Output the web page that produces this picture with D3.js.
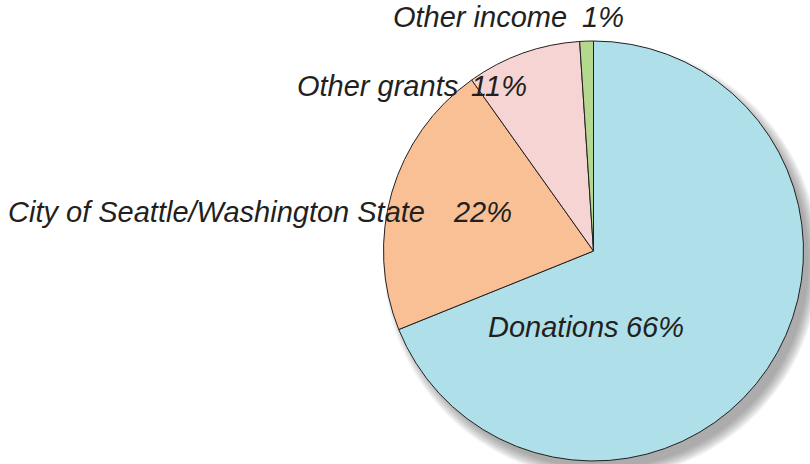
<!DOCTYPE html>
<html>
<head>
<meta charset="utf-8">
<script src="https://cdn.jsdelivr.net/npm/d3@7"></script>
<style>
  body { margin: 0; background: #fff; }
  svg text { font-family: "Liberation Sans", Arial, sans-serif; font-style: italic; fill: #231f20; }
</style>
</head>
<body>
<div id="chart"></div>
<script>
// slice order clockwise from 12 o'clock
var categories = ["Donations", "City of Seattle/Washington State", "Other grants", "Other income"];
var shares = [68.9, 21.25, 8.8, 1.05];            // slice sizes as drawn
var pctLabels = ["66%", "22%", "11%", "1%"];       // printed labels
var colors = ["#afdfe9", "#f9c096", "#f6d4d3", "#b5d88f"];

var width = 810, height = 464;
var cx = 593.5, cy = 251, radius = 210;

// label placement: name start x, pct end x, baseline y
var labelPos = [
    { x: 488, px: 684, y: 337 },
    { x: 8, px: 512, y: 222 },
    { x: 297, px: 527, y: 96 },
    { x: 393, px: 624, y: 27 }
];

var svg = d3.select("#chart")
    .append("svg")
    .attr("width", width)
    .attr("height", height);

var pie = d3.pie().sort(null).value(function (d) { return d; });
var arc = d3.arc().innerRadius(0).outerRadius(radius);

var g = svg.append("g")
    .attr("transform", "translate(" + cx + "," + cy + ")");

// soft shadow, built from stacked translucent rings
d3.range(12).forEach(function (k) {
    g.append("circle")
        .attr("cx", 8)
        .attr("cy", 10)
        .attr("r", radius + 8 - k)
        .attr("fill", "#6a6a6a")
        .attr("opacity", 0.06);
});

g.selectAll("path.slice")
    .data(pie(shares))
    .enter()
    .append("path")
    .attr("class", "slice")
    .attr("d", arc)
    .attr("fill", function (d, i) { return colors[i]; })
    .attr("stroke", "#231f20")
    .attr("stroke-width", 1)
    .attr("stroke-linejoin", "miter");

var labels = svg.append("g");

categories.forEach(function (name, i) {
    labels.append("text")
        .attr("x", labelPos[i].x)
        .attr("y", labelPos[i].y)
        .style("font-size", "29px")
        .text(name);
    labels.append("text")
        .attr("x", labelPos[i].px)
        .attr("y", labelPos[i].y)
        .attr("text-anchor", "end")
        .style("font-size", "29px")
        .text(pctLabels[i]);
});
</script>
</body>
</html>
